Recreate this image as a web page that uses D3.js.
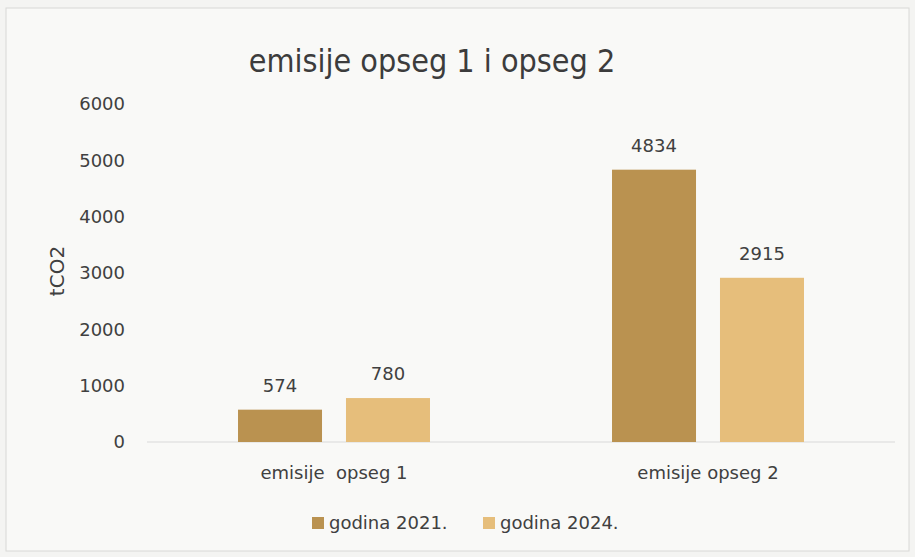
<!DOCTYPE html>
<html>
<head>
<meta charset="utf-8">
<script src="https://cdn.jsdelivr.net/npm/d3@7"></script>
<style>
  body { margin: 0; background: #f6f6f4; }
  svg { display: block; }
  text { font-family: "DejaVu Sans", sans-serif; fill: #404040; }
</style>
</head>
<body>
<div id="chart"></div>
<script>
let categories = ["emisije  opseg 1", "emisije opseg 2"]
let seriesNames = ["godina 2021.", "godina 2024."]
let values2021 = [574, 4834]
let values2024 = [780, 2915]
let yTicks = [0, 1000, 2000, 3000, 4000, 5000, 6000]
let colors = ["#ba9250", "#e6be7b"]

// set the dimensions and margins of the chart
let width = 915, height = 557
let margin = {top: 104, right: 20, bottom: 115, left: 147},
    plotWidth = 748,
    plotHeight = height - margin.top - margin.bottom;

let svg = d3.select("#chart")
    .append("svg")
    .attr("width", width)
    .attr("height", height)

// page background and scan frame
svg.append("rect")
    .attr("width", width)
    .attr("height", height)
    .style("fill", "#f4f4f2")
svg.append("rect")
    .attr("x", 6).attr("y", 8)
    .attr("width", width - 12).attr("height", height - 14)
    .style("fill", "#f9f9f7")
    .style("stroke", "#d8d8d6")
    .style("stroke-width", 1)

let g = svg.append("g")
    .attr("transform", "translate(" + margin.left + "," + margin.top + ")")

// build rows for each category
let rows = categories.map(function(c, i) {
    return {category: c, values: [values2021[i], values2024[i]]}
})

// outer scale for the categories, inner one for the years
let x0 = d3.scaleBand()
    .domain(categories)
    .range([0, plotWidth])
    .padding(0)

let x1 = d3.scaleBand()
    .domain(seriesNames)
    .range([0, x0.bandwidth()])
    .paddingInner(0.222)
    .paddingOuter(0.843)

let y = d3.scaleLinear()
    .domain([0, 6000])
    .range([plotHeight, 0])

// y tick labels (no axis line)
let yAxis = g.append("g")
    .call(d3.axisLeft(y).tickValues(yTicks).tickFormat(d3.format("d")).tickSize(0).tickPadding(22))
yAxis.select(".domain").remove()
yAxis.selectAll("text")
    .style("font-size", "18px")
    .style("font-family", "'DejaVu Sans', sans-serif")
    .style("fill", "#404040")

// y axis title
g.append("text")
    .attr("transform", "rotate(-90)")
    .attr("x", -y(3000) + 2)
    .attr("y", -margin.left + 57)
    .attr("dy", "0.35em")
    .style("text-anchor", "middle")
    .style("font-size", "20px")
    .text("tCO2")

// baseline
g.append("line")
    .attr("x1", 0).attr("x2", plotWidth)
    .attr("y1", y(0)).attr("y2", y(0))
    .style("stroke", "#dadada")
    .style("stroke-width", 1.2)

// bars
let groups = g.selectAll(".group")
    .data(rows)
    .enter()
    .append("g")
    .attr("transform", function(d) {return "translate(" + x0(d.category) + ",0)"})

groups.selectAll("rect")
    .data(function(d) {return d.values.map(function(v, i) {return {name: seriesNames[i], value: v, i: i}})})
    .enter()
    .append("rect")
    .attr("x", function(d) {return x1(d.name)})
    .attr("y", function(d) {return y(d.value)})
    .attr("width", x1.bandwidth())
    .attr("height", function(d) {return y(0) - y(d.value)})
    .style("fill", function(d) {return colors[d.i]})

// value labels
groups.selectAll(".value-label")
    .data(function(d) {return d.values.map(function(v, i) {return {name: seriesNames[i], value: v}})})
    .enter()
    .append("text")
    .attr("x", function(d) {return x1(d.name) + x1.bandwidth() / 2})
    .attr("y", function(d) {return y(d.value) - 24})
    .attr("dy", "0.35em")
    .style("text-anchor", "middle")
    .style("font-size", "18px")
    .text(function(d) {return d.value})

// category labels
g.selectAll(".cat-label")
    .data(categories)
    .enter()
    .append("text")
    .attr("x", function(d) {return x0(d) + x0.bandwidth() / 2})
    .attr("y", y(0) + 31)
    .attr("dy", "0.35em")
    .style("text-anchor", "middle")
    .style("font-size", "18px")
    .style("white-space", "pre")
    .attr("xml:space", "preserve")
    .text(function(d) {return d})

// title
svg.append("text")
    .attr("x", 432)
    .attr("y", 72)
    .style("text-anchor", "middle")
    .style("font-size", "32px")
    .style("font-family", "'DejaVu Sans Condensed', 'DejaVu Sans', sans-serif")
    .style("font-stretch", "condensed")
    .style("fill", "#3c3c3c")
    .text("emisije opseg 1 i opseg 2")

// legend
let legendX = [312, 483]
let legend = svg.selectAll(".legend")
    .data(seriesNames)
    .enter()
    .append("g")
    .attr("transform", function(d, i) {return "translate(" + legendX[i] + ",523)"})
legend.append("rect")
    .attr("x", 0).attr("y", -6)
    .attr("width", 12).attr("height", 12)
    .style("fill", function(d, i) {return colors[i]})
legend.append("text")
    .attr("x", 17)
    .attr("dy", "0.35em")
    .style("font-size", "18px")
    .text(function(d) {return d})
</script>
</body>
</html>
